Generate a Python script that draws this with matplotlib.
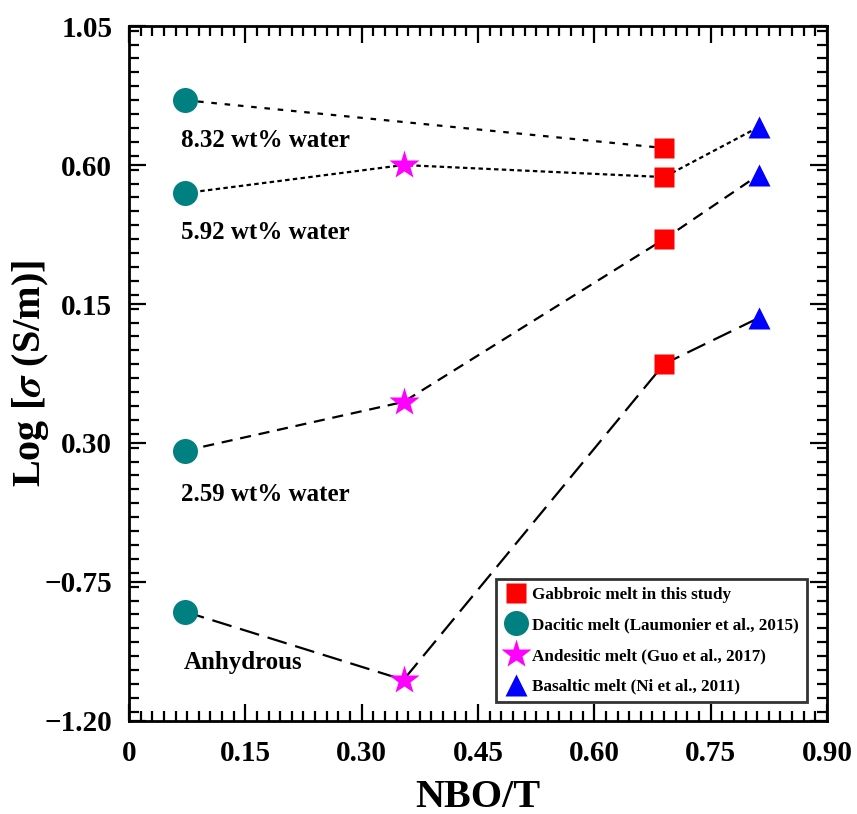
import numpy as np
import matplotlib
matplotlib.use("Agg")
import matplotlib.pyplot as plt
from matplotlib.ticker import MultipleLocator

plt.rcParams['font.family'] = ['Liberation Serif', 'DejaVu Serif']
plt.rcParams['font.weight'] = 'bold'
plt.rcParams['mathtext.fontset'] = 'stix'

# NBO/T positions of each melt
x_dac = 0.072
x_and = 0.354
x_gab = 0.690
x_bas = 0.812

# log conductivity per water content
dac_vals = [0.81, 0.509, -0.325, -0.846]
and_vals = [0.60, -0.167, -1.067]
gab_vals = [0.655, 0.561, 0.360, -0.044]
bas_vals = [0.723, 0.568, 0.105]

# tie lines (x, y) for each water content
line_832 = ([x_dac, x_gab], [dac_vals[0], gab_vals[0]])
line_592 = ([x_dac, x_and, x_gab, x_bas], [dac_vals[1], and_vals[0], gab_vals[1], bas_vals[0]])
line_259 = ([x_dac, x_and, x_gab, x_bas], [dac_vals[2], and_vals[1], gab_vals[2], bas_vals[1]])
line_anh = ([x_dac, x_and, x_gab, x_bas], [dac_vals[3], and_vals[2], gab_vals[3], bas_vals[2]])

xticks = [0, 0.15, 0.30, 0.45, 0.60, 0.75, 0.90]
xtick_labels = ['0', '0.15', '0.30', '0.45', '0.60', '0.75', '0.90']
yticks = [-1.20, -0.75, -0.30, 0.15, 0.60, 1.05]
ytick_labels = ['\u22121.20', '\u22120.75', '0.30', '0.15', '0.60', '1.05']

fig = plt.figure(figsize=(8.57, 8.14), dpi=100)
ax = fig.add_axes([0.1505, 0.1143, 0.8145, 0.8537])

lw = 1.6
ax.plot(*line_832, color='black', lw=lw, ls=(0, (2.5, 3.5)), zorder=1)
ax.plot(*line_592, color='black', lw=lw, ls=(0, (2, 1.5)), zorder=1)
ax.plot(*line_259, color='black', lw=lw, ls=(0, (5, 3.5)), zorder=1)
ax.plot(*line_anh, color='black', lw=lw, ls=(0, (9, 4)), zorder=1)

ax.plot([x_gab] * len(gab_vals), gab_vals, 's', color='#ff0000', ms=15, mec='none',
        ls='none', label='Gabbroic melt in this study', zorder=3)
ax.plot([x_dac] * len(dac_vals), dac_vals, 'o', color='#008080', ms=18, mec='none',
        ls='none', label='Dacitic melt (Laumonier et al., 2015)', zorder=3)
ax.plot([x_and] * len(and_vals), and_vals, '*', color='#ff00ff', ms=22, mec='none',
        ls='none', label='Andesitic melt (Guo et al., 2017)', zorder=3)
ax.plot([x_bas] * len(bas_vals), bas_vals, '^', color='#0000ff', ms=16, mec='none',
        ls='none', label='Basaltic melt (Ni et al., 2011)', zorder=3)

tfs = 18
ax.text(0.067, 0.681, '8.32 wt% water', fontsize=tfs, fontweight='bold', va='center')
ax.text(0.067, 0.380, '5.92 wt% water', fontsize=tfs, fontweight='bold', va='center')
ax.text(0.067, -0.468, '2.59 wt% water', fontsize=tfs, fontweight='bold', va='center')
ax.text(0.071, -1.012, 'Anhydrous', fontsize=tfs, fontweight='bold', va='center')

ax.set_xlim(0, 0.90)
ax.set_ylim(-1.20, 1.05)
ax.set_xticks(xticks)
ax.set_xticklabels(xtick_labels)
ax.set_yticks(yticks)
ax.set_yticklabels(ytick_labels)
ax.xaxis.set_minor_locator(MultipleLocator(0.015))
ax.yaxis.set_minor_locator(MultipleLocator(0.045))
ax.tick_params(which='both', direction='in', top=True, right=True, width=1.6)
ax.tick_params(which='major', length=12, labelsize=21)
ax.tick_params(axis='y', which='major', pad=12)
ax.tick_params(axis='x', which='major', pad=14)
ax.tick_params(which='minor', length=7)
for sp in ax.spines.values():
    sp.set_linewidth(2)

ax.set_xlabel('NBO/T', fontsize=29, fontweight='bold', labelpad=8)
ax.set_ylabel('Log [$\\sigma$ (S/m)]', fontsize=29, fontweight='bold')
ax.yaxis.set_label_coords(-0.111, 0.5)

leg = ax.legend(loc='lower right', bbox_to_anchor=(0.971, 0.027),
                prop={'weight': 'bold', 'size': 12.3}, frameon=True, fancybox=False,
                edgecolor='black', handletextpad=0.25, labelspacing=0.85,
                borderpad=0.45, handlelength=1.4, borderaxespad=0)
leg.get_frame().set_linewidth(2)

fig.savefig('out.png', dpi=100)
